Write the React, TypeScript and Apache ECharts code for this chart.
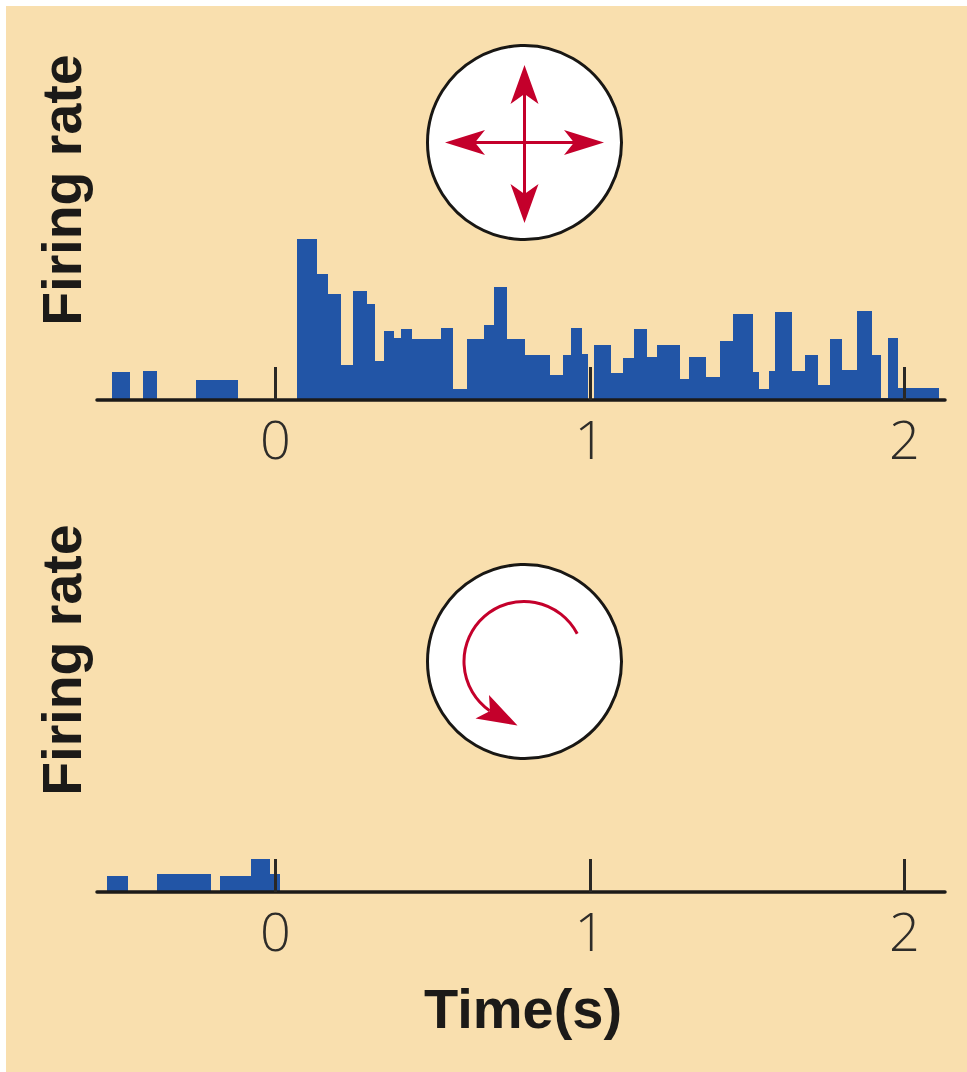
import React, { useEffect, useRef } from "react";
import * as echarts from "echarts";

const tickLabels = [0, 1, 2];

// Bin edges in seconds and firing rate per bin (0 = an empty gap bin)
const directionalEdges = [
  -0.52, -0.462, -0.42, -0.378, -0.254, -0.119, 0.067, 0.131, 0.168, 0.209, 0.245, 0.292, 0.317, 0.346, 0.377,
  0.4, 0.434, 0.525, 0.565, 0.608, 0.662, 0.695, 0.737, 0.794, 0.874, 0.915, 0.94, 0.975, 0.993, 1.014,
  1.066, 1.106, 1.14, 1.182, 1.214, 1.286, 1.314, 1.369, 1.413, 1.456, 1.517, 1.538, 1.568, 1.588, 1.643,
  1.685, 1.726, 1.763, 1.8, 1.85, 1.897, 1.924, 1.949, 1.98, 2.109,
];
const directionalRates = [
  28, 0, 29, 0, 20, 0, 161, 126, 106, 35, 109, 96, 39, 69,
  62, 71, 61, 72, 11, 61, 75, 113, 61, 45, 25, 45, 72, 46, 0,
  55, 27, 42, 71, 43, 55, 21, 43, 23, 59, 86, 28, 11, 29, 88,
  29, 45, 15, 61, 30, 89, 45, 2, 62, 12,
];

const rotationEdges = [-0.535, -0.469, -0.378, -0.204, -0.175, -0.079, -0.017, 0.015];
const rotationRates = [16, 0, 18, 0, 16, 33, 18];

const BLUE = "#2255a6";
const RED = "#c4002b";
const INK = "#1c1a18";
const BG = "#f9dfae";

const toBins = (edges: number[], rates: number[]) =>
  rates.map((r, i) => [edges[i], edges[i + 1], r]);

const renderBin = (params: any, api: any) => {
  const a = api.coord([api.value(0), api.value(2)]);
  const b = api.coord([api.value(1), 0]);
  const x0 = Math.round(a[0]);
  const x1 = Math.round(b[0]);
  const y0 = Math.round(a[1]);
  const y1 = Math.round(b[1]);
  return {
    type: "rect",
    shape: { x: x0, y: y0, width: x1 - x0, height: y1 - y0 },
    style: { fill: BLUE },
  };
};

const xAxisBase = {
  type: "value" as const,
  min: -0.5676,
  max: 2.129,
  splitLine: { show: false },
  axisLine: { onZero: false, lineStyle: { color: INK, width: 3.5 } },
  axisTick: {
    inside: true,
    length: 33,
    customValues: tickLabels,
    lineStyle: { color: "#2a2825", width: 3 },
  },
  axisLabel: {
    customValues: tickLabels,
    margin: 11,
    color: "#2e2c29",
    fontFamily: "Open Sans",
    fontWeight: 300,
    fontSize: 54,
  },
  z: 10,
};

const yAxisBase = {
  type: "value" as const,
  min: 0,
  splitLine: { show: false },
  axisLine: { show: false },
  axisTick: { show: false },
  axisLabel: { show: false },
  name: "Firing rate",
  nameLocation: "middle" as const,
  nameGap: 7,
  nameTextStyle: { color: INK, fontFamily: "Liberation Sans", fontWeight: "bold" as const, fontSize: 55.5 },
};

const arrowHead = (pts: number[][]) => ({
  type: "polygon",
  shape: { points: pts },
  style: { fill: RED },
});
const stroke = { stroke: RED, lineWidth: 3, fill: "none" };

const dial = (cy: number) => ({
  type: "circle",
  shape: { cx: 524.5, cy, r: 97 },
  style: { fill: "#ffffff", stroke: "#191714", lineWidth: 3 },
});

const graphics = [
  { type: "rect", z: -100, shape: { x: 6, y: 6, width: 961, height: 1066 }, style: { fill: BG } },
  dial(142.5),
  dial(661.5),
  { type: "line", shape: { x1: 524.5, y1: 90, x2: 524.5, y2: 198 }, style: stroke },
  { type: "line", shape: { x1: 470, y1: 142.5, x2: 580, y2: 142.5 }, style: stroke },
  arrowHead([[524.5, 65], [538.5, 104], [524.5, 94], [510.5, 104]]),
  arrowHead([[524.5, 223], [538.5, 184], [524.5, 194], [510.5, 184]]),
  arrowHead([[445, 142.5], [485, 130], [475, 142.5], [485, 155]]),
  arrowHead([[604, 142.5], [564, 130], [574, 142.5], [564, 155]]),
  {
    type: "arc",
    shape: { cx: 524, cy: 661.5, r: 60, startAngle: -0.48, endAngle: 2.18, clockwise: false },
    style: stroke,
  },
  arrowHead([[517.5, 725.5], [489, 695], [490, 711], [475.5, 718.5]]),
];

export default function App() {
  const ref = useRef<HTMLDivElement>(null);
  useEffect(() => {
    document.body.style.margin = "0";
    document.body.style.background = "#ffffff";
    const chart = echarts.init(ref.current!, undefined, { renderer: "svg" });
    chart.setOption({
      animation: false,
      grid: [
        { left: 97, right: 22, top: 0, height: 400, outerBoundsMode: "none" },
        { left: 97, right: 22, top: 428, height: 464, outerBoundsMode: "none" },
      ],
      xAxis: [
        { ...xAxisBase, gridIndex: 0 },
        {
          ...xAxisBase,
          gridIndex: 1,
          name: "Time(s)",
          nameLocation: "middle",
          nameGap: 88,
          nameTextStyle: {
            color: INK,
            fontFamily: "Liberation Sans",
            fontWeight: "bold",
            fontSize: 56,
            padding: [0, 0, 0, 4],
          },
        },
      ],
      yAxis: [
        {
          ...yAxisBase,
          gridIndex: 0,
          max: 400,
          nameTextStyle: { ...yAxisBase.nameTextStyle, padding: [0, 0, 0, 20] },
        },
        { ...yAxisBase, gridIndex: 1, max: 464 },
      ],
      graphic: { elements: graphics },
      series: [
        {
          type: "custom",
          xAxisIndex: 0,
          yAxisIndex: 0,
          renderItem: renderBin,
          encode: { x: [0, 1], y: 2 },
          data: toBins(directionalEdges, directionalRates),
        },
        {
          type: "custom",
          xAxisIndex: 1,
          yAxisIndex: 1,
          renderItem: renderBin,
          encode: { x: [0, 1], y: 2 },
          data: toBins(rotationEdges, rotationRates),
        },
      ],
    });
    return () => chart.dispose();
  }, []);
  return <div ref={ref} style={{ width: 967, height: 1072 }} />;
}
